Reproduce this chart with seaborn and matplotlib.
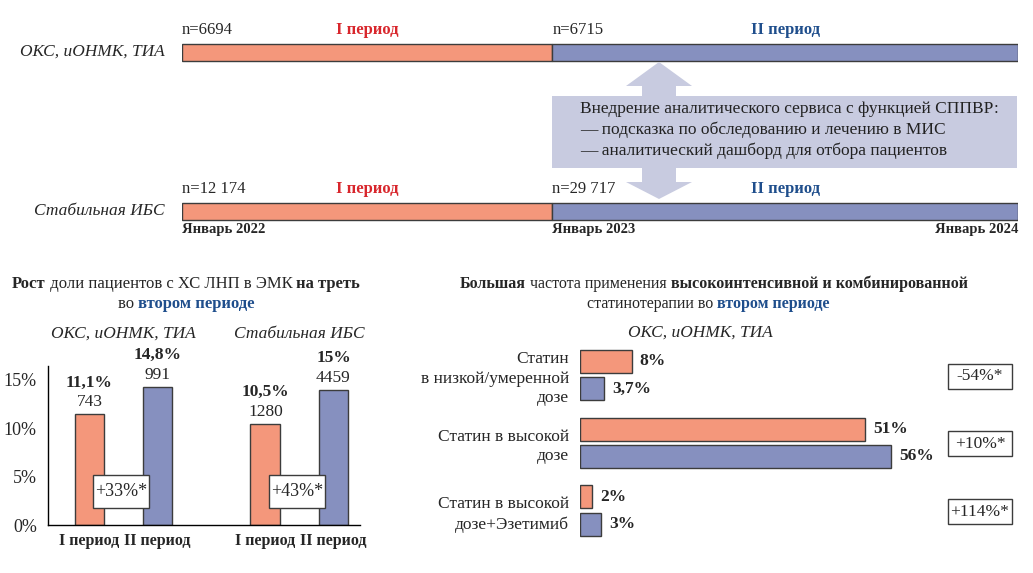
import numpy as np
import pandas as pd
import matplotlib
matplotlib.use('Agg')
import matplotlib.pyplot as plt
import seaborn as sns
from matplotlib.patches import Polygon, Rectangle
from matplotlib.transforms import blended_transform_factory

W, H = 1033, 573

# ---- data ----
timeline_rows = ['ОКС, иОНМК, ТИА', 'Стабильная ИБС']
timeline_n = [['n=6694', 'n=6715'], ['n=12 174', 'n=29 717']]
period_names = ['I период', 'II период']
period_split = 0.443  # share of the timeline taken by period I (as drawn)
timeline_dates = ['Январь 2022', 'Январь 2023', 'Январь 2024']

service_text = ['Внедрение аналитического сервиса с функцией СППВР:',
                '— подсказка по обследованию и лечению в МИС',
                '— аналитический дашборд для отбора пациентов']

ldl_groups = ['ОКС, иОНМК, ТИА', 'Стабильная ИБС']
ldl_share = [11.4, 14.2, 10.4, 13.9]          # bar heights, %
ldl_pct_labels = ['11,1%', '14,8%', '10,5%', '15%']
ldl_counts = ['743', '991', '1280', '4459']
ldl_change = ['+33%*', '+43%*']

statin_cats = ['Статин\nв низкой/умеренной\nдозе',
               'Статин в высокой\nдозе',
               'Статин в высокой\nдозе+Эзетимиб']
statin_p1 = [9.3, 51.2, 2.2]
statin_p2 = [4.3, 55.8, 3.8]
statin_p1_labels = ['8%', '51%', '2%']
statin_p2_labels = ['3,7%', '56%', '3%']
statin_change = ['-54%*', '+10%*', '+114%*']

C1 = '#F4977B'
C2 = '#8690BF'
EDGE = '#3c3c3c'
RED = '#D8262C'
BLUE = '#1F4E8C'
LAV = '#C8CBE0'

sns.set_style('white')
plt.rcParams['font.family'] = ['Liberation Serif', 'DejaVu Serif']

fig = plt.figure(figsize=(W / 100, H / 100), dpi=100)
renderer = fig.canvas.get_renderer()


def rect(x0, y0, x1, y1):
    return [x0 / W, 1 - y1 / H, (x1 - x0) / W, (y1 - y0) / H]


# overlay axes in pixel units, kept on top of the others
ax0 = fig.add_axes([0, 0, 1, 1])
ax0.set_xlim(0, W)
ax0.set_ylim(H, 0)
ax0.axis('off')
ax0.set_zorder(10)


def text_width(s, **kw):
    t1 = ax0.text(0, 0, '|' + s + '|', **kw)
    t2 = ax0.text(0, 0, '||', **kw)
    w = t1.get_window_extent(renderer).width - t2.get_window_extent(renderer).width
    t1.remove()
    t2.remove()
    return w


def rich_line(xc, y, parts, size):
    widths = [text_width(s, fontsize=size, **kw) for s, kw in parts]
    x = xc - sum(widths) / 2
    for (s, kw), w in zip(parts, widths):
        ax0.text(x, y, s, fontsize=size, va='center', ha='left', **kw)
        x += w


def to_px(ax, x, y):
    return ax0.transData.inverted().transform(ax.transData.transform((x, y)))


def label_box(xc, yc, w, h, lab, size):
    ax0.add_patch(Rectangle((xc - w / 2, yc - h / 2), w, h, fc='white', ec=EDGE, lw=1, zorder=5))
    ax0.text(xc, yc, lab, ha='center', va='center', fontsize=size, zorder=6)


# ---- service box with double arrow ----
ax0.add_patch(Polygon([(659, 62), (692, 86), (676, 86), (676, 96), (1017, 96),
                       (1017, 168), (676, 168), (676, 182), (692, 182), (659, 199),
                       (626, 182), (642, 182), (642, 168), (552, 168), (552, 96),
                       (642, 96), (642, 86), (626, 86)],
                      closed=True, fc=LAV, ec='none'))
for i, line in enumerate(service_text):
    ax0.text(580, 109 + i * 21, line, fontsize=12.5, va='center', ha='left', color='#222222')

for i, row in enumerate(timeline_rows):
    ax0.text(165, [52, 211][i], row, fontsize=12.5, style='italic', va='center', ha='right')

# ---- timeline ----
axt = fig.add_axes(rect(182, 0, 1018, H))
axt.set_xlim(0, 1)
axt.set_ylim(H, 0)
axt.axis('off')
for i, y in enumerate([52.5, 211]):
    axt.barh([y, y], [period_split, 1 - period_split], left=[0, period_split], height=17,
             color=[C1, C2], edgecolor=EDGE, linewidth=1)
    axt.text(0, y - 22, timeline_n[i][0], fontsize=12, va='center', ha='left')
    axt.text(period_split, y - 22, timeline_n[i][1], fontsize=12, va='center', ha='left')
    axt.text(period_split / 2, y - 22, period_names[0], fontsize=12, fontweight='bold',
             color=RED, va='center', ha='center')
    axt.text((1 + period_split) / 2, y - 22, period_names[1], fontsize=12, fontweight='bold',
             color=BLUE, va='center', ha='center')
for x, lab, ha in zip([0, period_split, 1], timeline_dates, ['left', 'left', 'right']):
    axt.text(x, 230, lab, fontsize=10.5, fontweight='bold', va='center', ha=ha)

# ---- left chart: LDL share ----
rich_line(186, 284, [('Рост', dict(fontweight='bold')),
                     (' доли пациентов с ХС ЛНП в ЭМК ', {}),
                     ('на треть', dict(fontweight='bold'))], 12)
rich_line(186, 304, [('во ', {}),
                     ('втором периоде', dict(fontweight='bold', color=BLUE))], 12)

ax1 = fig.add_axes(rect(48, 366, 360, 525))
df1 = pd.DataFrame({'group': np.repeat(ldl_groups, 2),
                    'period': period_names * 2,
                    'share': ldl_share})
sns.barplot(data=df1, x='group', y='share', hue='period', palette=[C1, C2], saturation=1,
            width=0.773, gap=0.56, edgecolor=EDGE, linewidth=1, legend=False, ax=ax1)
ax1.set_xlim(-0.429, 1.344)
ax1.set_ylim(0, 16.4)
ax1.set_yticks([0, 5, 10, 15])
ax1.set_yticklabels(['0%', '5%', '10%', '15%'], fontsize=13)
ax1.set_xlabel('')
ax1.set_ylabel('')
for s in ['top', 'right']:
    ax1.spines[s].set_visible(False)
for s in ['left', 'bottom']:
    ax1.spines[s].set_color('black')
    ax1.spines[s].set_linewidth(1)
ax1.tick_params(axis='y', length=0, pad=8)
ax1.tick_params(axis='x', length=0, pad=6)

centers, names = [], []
for k, cont in enumerate(ax1.containers):
    for j, bar in enumerate(cont):
        idx = j * 2 + k
        xc = bar.get_x() + bar.get_width() / 2
        h = bar.get_height()
        centers.append(xc)
        names.append(period_names[k])
        ax1.annotate(ldl_counts[idx], (xc, h), xytext=(0, 12), textcoords='offset pixels',
                     ha='center', va='center', fontsize=12.5)
        ax1.annotate(ldl_pct_labels[idx], (xc, h), xytext=(0, 32), textcoords='offset pixels',
                     ha='center', va='center', fontsize=12.5, fontweight='bold')
ax1.set_xticks(centers)
ax1.set_xticklabels(names, fontsize=11.5, fontweight='bold')
for j, lab in enumerate(ldl_change):
    xc, yc = to_px(ax1, j, 3.5)
    label_box(xc - 2, yc, 56, 33, lab, 13)

tr = blended_transform_factory(ax1.transData, ax0.transData)
for j, g in enumerate(ldl_groups):
    ax0.text(j, 334, g, transform=tr, fontsize=12.5, style='italic', ha='center', va='center')

# ---- right chart: statin therapy ----
rich_line(714, 284, [('Большая', dict(fontweight='bold')),
                     (' частота применения ', {}),
                     ('высокоинтенсивной и комбинированной', dict(fontweight='bold'))], 11.5)
rich_line(708, 304, [('статинотерапии во ', {}),
                     ('втором периоде', dict(fontweight='bold', color=BLUE))], 11.5)
ax0.text(700, 333, 'ОКС, иОНМК, ТИА', fontsize=12.5, style='italic', ha='center', va='center')

ax2 = fig.add_axes(rect(580, 340, 940, 545))
df2 = pd.DataFrame({'cat': statin_cats * 2,
                    'period': np.repeat(period_names, 3),
                    'value': statin_p1 + statin_p2})
sns.barplot(data=df2, y='cat', x='value', hue='period', orient='h', palette=[C1, C2],
            saturation=1, width=0.81, gap=0.16, edgecolor=EDGE, linewidth=1,
            legend=False, ax=ax2)
ax2.set_xlim(0, 360 / 5.57)
ax2.set_ylim(2.509, -0.517)
ax2.set_xlabel('')
ax2.set_ylabel('')
ax2.set_xticks([])
sns.despine(ax=ax2, left=True, bottom=True)
ax2.tick_params(axis='y', length=0, pad=8)
ax2.set_yticklabels(statin_cats, fontsize=12.5, linespacing=1.3)

val_labels = [statin_p1_labels, statin_p2_labels]
for k, cont in enumerate(ax2.containers):
    for j, bar in enumerate(cont):
        yc = bar.get_y() + bar.get_height() / 2
        ax2.annotate(val_labels[k][j], (bar.get_width(), yc), xytext=(8, 0),
                     textcoords='offset pixels', ha='left', va='center',
                     fontsize=12.5, fontweight='bold')

for j, lab in enumerate(statin_change):
    _, yc = to_px(ax2, 0, j)
    label_box(980, yc + 1, 64, 25, lab, 12.5)

fig.savefig('out.png', dpi=100)
